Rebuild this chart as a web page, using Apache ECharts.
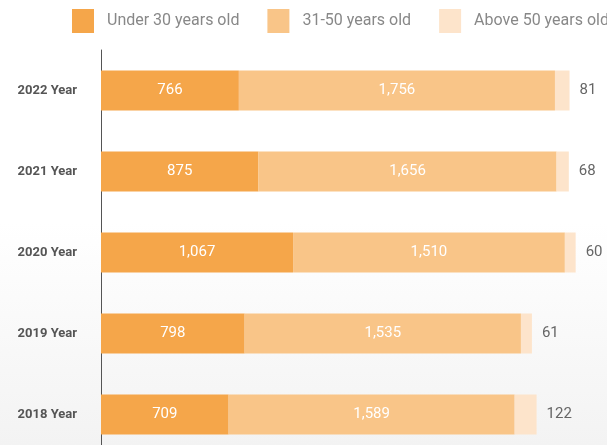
<!DOCTYPE html>
<html>
<head>
<meta charset="utf-8">
<script src="https://cdn.jsdelivr.net/npm/echarts@6/dist/echarts.min.js"></script>
<style>
  html, body { margin: 0; padding: 0; }
  #chart { width: 607px; height: 445px; }
</style>
</head>
<body>
<div id="chart"></div>
<script>
// bottom to top, as the category axis draws them
const years = ['2018 Year', '2019 Year', '2020 Year', '2021 Year', '2022 Year']
const seriesNames = ['Under 30 years old', '31-50 years old', 'Above 50 years old']
const under30 = [709, 798, 1067, 875, 766]
const age31to50 = [1589, 1535, 1510, 1656, 1756]
const above50 = [122, 61, 60, 68, 81]

const colors = ['#f5a64a', '#f9c588', '#fde4cb']
const fmt = p => p.value.toLocaleString('en-US')

const chart = echarts.init(document.getElementById('chart'))

chart.setOption({
  backgroundColor: {
    type: 'linear', x: 0, y: 0, x2: 0, y2: 1,
    colorStops: [
      { offset: 0, color: '#ffffff' },
      { offset: 0.5, color: '#ffffff' },
      { offset: 1, color: '#f3f3f3' }
    ]
  },
  textStyle: { fontFamily: 'Roboto' },
  legend: {
    data: seriesNames,
    top: 9,
    left: 72,
    width: 600,
    padding: 0,
    itemWidth: 22,
    itemHeight: 24,
    itemGap: 28,
    icon: 'rect',
    textStyle: {
      color: '#888',
      fontSize: 16,
      fontFamily: 'Roboto',
      padding: [0, 0, 0, 8]
    }
  },
  grid: {
    left: 101,
    top: 50,
    width: 504,
    height: 405,
    outerBoundsMode: 'none',
    containLabel: false
  },
  xAxis: {
    type: 'value',
    min: 0,
    max: 2800,
    show: false
  },
  yAxis: {
    type: 'category',
    data: years,
    axisLine: { show: true, lineStyle: { color: '#555', width: 1 } },
    axisTick: { show: false },
    axisLabel: {
      color: '#555',
      fontSize: 13,
      fontWeight: 'bold',
      fontFamily: 'Roboto',
      margin: 24
    }
  },
  series: [
    {
      name: seriesNames[0],
      type: 'bar',
      stack: 'age',
      barWidth: 40,
      data: under30,
      itemStyle: { color: colors[0] },
      label: { show: true, position: 'inside', color: '#fff', fontSize: 15, formatter: fmt }
    },
    {
      name: seriesNames[1],
      type: 'bar',
      stack: 'age',
      barWidth: 40,
      data: age31to50,
      itemStyle: { color: colors[1] },
      label: { show: true, position: 'inside', color: '#fff', fontSize: 15, formatter: fmt }
    },
    {
      name: seriesNames[2],
      type: 'bar',
      stack: 'age',
      barWidth: 40,
      data: above50,
      itemStyle: { color: colors[2] },
      label: { show: true, position: 'right', distance: 10, color: '#666', fontSize: 15, formatter: fmt }
    }
  ]
})
</script>
</body>
</html>
